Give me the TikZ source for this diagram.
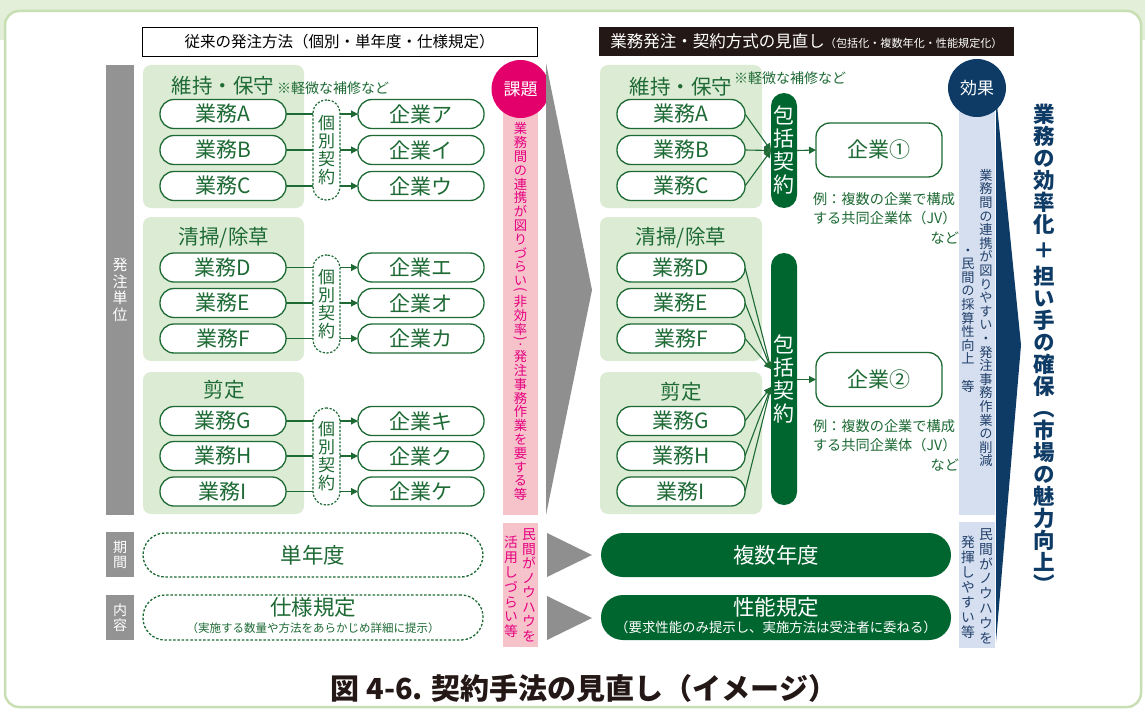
\documentclass[tikz,border=0pt]{standalone}
\usepackage{fontspec}
\setmainfont{Noto Sans CJK JP}
\newfontfamily\jpv[RawFeature={+vert}]{Noto Sans CJK JP}
\usetikzlibrary{arrows.meta}
\definecolor{bggreen}{HTML}{E3EFD9}
\definecolor{framegreen}{HTML}{C8DEB3}
\definecolor{grpgreen}{HTML}{DCEBD4}
\definecolor{dgreen}{HTML}{1D6A34}
\definecolor{pillgreen}{HTML}{00662F}
\definecolor{hdrblack}{HTML}{231815}
\definecolor{barGray}{HTML}{939393}
\definecolor{arrGray}{HTML}{8F8F90}
\definecolor{kpink}{HTML}{E4006B}
\definecolor{lpink}{HTML}{F6C3CB}
\definecolor{tpink}{HTML}{E5007F}
\definecolor{navy}{HTML}{0E3B66}
\definecolor{lblue}{HTML}{D5DFEF}
\definecolor{tnavy}{HTML}{22406B}

\makeatletter
\newdimen\vt@step
\newdimen\vt@gap
\newif\ifvt@half
\vt@gap=4pt
\def\vt@stop{\vt@stop}
\def\vg{\vg}
% full-step vertical text
\newcommand\vtext[2]{\vt@halffalse\vt@step=#1\relax\vbox{\offinterlineskip\vt@a#2\vt@stop}}
% vertical text with compact brackets and middle dots
\newcommand\vtexth[2]{\vt@halftrue\vt@step=#1\relax\vbox{\offinterlineskip\vt@a#2\vt@stop}}
\def\vt@a#1{\ifx#1\vt@stop\else\vt@b#1\expandafter\vt@a\fi}
\def\vt@full#1{\hbox to\vt@step{\hss\vbox to\vt@step{\vss\hbox{\vrule height.88em depth.12em width0pt#1}\vss}\hss}}
\def\vt@r#1#2{\hbox to\vt@step{\hss\vbox to.5\vt@step{\vss\hbox{\rotatebox[origin=c]{#1}{#2}}\vss}\hss}}
\def\vt@b#1{\ifx#1\vg\vskip\vt@gap\else
  \ifvt@half
    \ifx#1（\vt@r{-90}{(}\else
    \ifx#1）\vt@r{-90}{)}\else
    \ifx#1・\vt@r{0}{·}\else
    \vt@full{#1}\fi\fi\fi
  \else\vt@full{#1}\fi\fi}
\makeatother

\begin{document}
\begin{tikzpicture}[x=1pt,y=-1pt,
  every node/.style={inner sep=0pt, outer sep=0pt},
  gyo/.style={draw=dgreen, line width=1.3pt, fill=white, rounded corners=14pt, minimum width=126pt, minimum height=29pt, text=dgreen, font=\fontsize{21}{21}\selectfont},
  kobetsu/.style={draw=dgreen, dash pattern=on 2.2pt off 1.6pt, line width=1.2pt, fill=white, rounded corners=13pt, minimum width=27pt, text=dgreen, font=\jpv\fontsize{17}{17}\selectfont},
  pill/.style={fill=pillgreen, rounded corners=13pt, minimum width=26pt, text=white, font=\jpv\fontsize{21}{21}\selectfont},
  kig/.style={draw=dgreen, line width=1.3pt, fill=white, rounded corners=14pt, minimum width=126pt, minimum height=54pt, text=dgreen, font=\fontsize{21}{21}\selectfont},
  grptitle/.style={text=dgreen, font=\fontsize{20.5}{20.5}\selectfont},
  note/.style={text=dgreen, font=\fontsize{14}{14}\selectfont},
  captxt/.style={text=dgreen, text width=146pt, align=left, font=\fontsize{14.2}{19.5}\selectfont},
  conn/.style={draw=dgreen, line width=1.1pt},
  arr/.style={-{Triangle[length=7pt,width=7pt]}},
  dashbox/.style={draw=dgreen, dash pattern=on 2.5pt off 1.8pt, line width=1.3pt, rounded corners=22pt, fill=white},
  bigpill/.style={fill=pillgreen, rounded corners=22pt, minimum width=350pt},
  graylbl/.style={fill=barGray, minimum width=28pt, text=white, font=\jpv\fontsize{14}{14}\selectfont},
  pinkv/.style={text=tpink, font=\jpv\fontsize{13.3}{13.3}\selectfont},
  bluev/.style={text=tnavy, font=\jpv\fontsize{13.2}{13.2}\selectfont}
]
\useasboundingbox (0,0) rectangle (1145,709);
% frame
\fill[bggreen] (0,0) rectangle (1145,40);
\draw[framegreen, line width=2.5pt, fill=white, rounded corners=14pt] (5,11) rectangle (1141,707);

% headers
\node[draw=black, line width=0.8pt, fill=white, minimum width=395pt, minimum height=29pt, font=\fontsize{15.5}{15.5}\selectfont] (h1) at (339.5,41.5) {従来の発注方法（個別・単年度・仕様規定）};
\node[fill=hdrblack, minimum width=415pt, minimum height=29pt, text=white] (h2) at (806.5,41.5) {{\fontsize{16.5}{16.5}\selectfont 業務発注・契約方式の見直し}{\fontsize{11.1}{11.1}\selectfont （包括化・複数年化・性能規定化）}};

% gray labels
\node[graylbl, minimum height=450pt, font=\jpv\fontsize{15}{15}\selectfont] (bar) at (120,290) {\vtext{16.5pt}{発注単位}};
\node[graylbl, minimum height=45pt] (kikan) at (120,554.5) {\vtext{15pt}{期間}};
\node[graylbl, minimum height=45pt] (naiyo) at (120,617.5) {\vtext{15pt}{内容}};

% group boxes
\foreach \xa/\xb in {143/304, 600/762} {
  \fill[grpgreen, rounded corners=8pt] (\xa,65) rectangle (\xb,208);
  \fill[grpgreen, rounded corners=8pt] (\xa,217) rectangle (\xb,361);
  \fill[grpgreen, rounded corners=8pt] (\xa,372) rectangle (\xb,514);
}
\node[grptitle] (t1L) at (223,86) {維持・保守};
\node[note, anchor=west] (n1L) at (277,88) {※軽微な補修など};
\node[grptitle] (t2L) at (224,238) {清掃/除草};
\node[grptitle] (t3L) at (224,390) {剪定};
\node[grptitle] (t1R) at (681,87) {維持・保守};
\node[note, anchor=west] (n1R) at (734,78) {※軽微な補修など};
\node[grptitle] (t2R) at (681,238) {清掃/除草};
\node[grptitle] (t3R) at (681,392) {剪定};

% task boxes
\foreach \nm/\yy in {A/114,B/150,C/186,D/267.5,E/303,F/338.5,G/421,H/456,I/491.5} {
  \node[gyo] (L\nm) at (223,\yy) {業務\nm};
  \node[gyo, minimum width=128pt] (R\nm) at (681,\yy) {業務\nm};
}
% companies (left)
\foreach \nm/\t/\yy in {A/ア/114,B/イ/150,C/ウ/186,D/エ/267.5,E/オ/303,F/カ/338.5,G/キ/421,H/ク/456,I/ケ/491.5} {
  \node[gyo] (K\nm) at (421,\yy) {企業\t};
}
% individual contracts
\node[kobetsu, minimum height=100pt] (k1) at (326.5,150) {\vtext{18pt}{個別契約}};
\node[kobetsu, minimum height=98pt] (k2) at (326.5,304) {\vtext{18pt}{個別契約}};
\node[kobetsu, minimum height=97pt] (k3) at (326.5,456.5) {\vtext{18pt}{個別契約}};
\foreach \nm/\k in {A/1,B/1,C/1,D/2,E/2,F/2,G/3,H/3,I/3} {
  \draw[conn] (L\nm.east) -- (L\nm.east -| k\k.west);
  \draw[conn, arr] (L\nm.east -| k\k.east) -- (K\nm.west);
}

% right: package contracts
\node[pill, minimum height=115pt] (p1) at (784,150.5) {\vtext{23pt}{包括契約}};
\node[pill, minimum height=252pt] (p2) at (784,379) {\vtext{23pt}{包括契約}};
\coordinate (c2a) at (771,369);
\coordinate (c2b) at (771,387);
\foreach \nm in {A,B,C} \draw[conn, arr] (R\nm.east) -- (p1.west);
\foreach \nm in {D,E,F} \draw[conn, arr] (R\nm.east) -- (c2a);
\foreach \nm in {G,H,I} \draw[conn, arr] (R\nm.east) -- (c2b);
\node[kig] (kig1) at (879,150) {企業①};
\node[kig] (kig2) at (879,379.5) {企業②};
\draw[conn, arr] (p1.east) -- (kig1.west);
\draw[conn, arr] (p2.east |- kig2.west) -- (kig2.west);
\node[captxt, anchor=north west] (cap1) at (813,192.5) {例：複数の企業で構成\\する共同企業体（JV）\\\hspace*{\fill}など};
\node[captxt, anchor=north west] (cap2) at (813,419.5) {例：複数の企業で構成\\する共同企業体（JV）\\\hspace*{\fill}など};

% issue column
\fill[lpink] (503,89) rectangle (538,515);
\node[pinkv, anchor=north] (kdtxt) at (520.5,122) {\vtexth{13.8pt}{業務間の連携が図りづらい（非効率）・発注事務作業を要する等}};
\node[circle, fill=kpink, minimum size=58pt, text=white, font=\fontsize{17}{17}\selectfont] (kadai) at (520.5,89) {課題};
\fill[lpink] (503,523) rectangle (538,647);
\node[pinkv, font=\jpv\fontsize{13.8}{13.8}\selectfont] (kd2a) at (529,585) {\vtext{14.5pt}{民間がノウハウを}};
\node[pinkv, font=\jpv\fontsize{13.8}{13.8}\selectfont] (kd2b) at (511,587) {\vtext{14.8pt}{活用しづらい等}};

% gray arrows
\fill[arrGray] (546,63) -- (592,290) -- (546,515) -- cycle;
\fill[arrGray] (547,533) -- (592,555) -- (547,577) -- cycle;
\fill[arrGray] (547,596) -- (592,618) -- (547,640) -- cycle;

% bottom rows
\node[dashbox, minimum width=340pt, minimum height=44pt, text=dgreen, font=\fontsize{21.5}{21.5}\selectfont] (tan) at (313,555) {単年度};
\node[dashbox, minimum width=340pt, minimum height=45pt] (shi) at (313,617.5) {};
\node[text=dgreen, font=\fontsize{21.5}{21.5}\selectfont] (shit) at (313,607) {仕様規定};
\node[text=dgreen, font=\fontsize{11.5}{11.5}\selectfont] (shis) at (313,628.5) {（実施する数量や方法をあらかじめ詳細に提示）};
\node[bigpill, minimum height=44pt, text=white, font=\fontsize{21.5}{21.5}\selectfont] (fuku) at (776,555) {複数年度};
\node[bigpill, minimum height=45pt] (sei) at (776,617.5) {};
\node[text=white, font=\fontsize{21.5}{21.5}\selectfont] (seit) at (776,607) {性能規定};
\node[text=white, font=\fontsize{13.4}{13.4}\selectfont] (seis) at (776,627.5) {（要求性能のみ提示し、実施方法は受注者に委ねる）};

% effect column
\fill[lblue] (959,88) rectangle (995,515);
\fill[lblue] (959,522) rectangle (995,648);
\fill[navy] (996,95) -- (1021,345) -- (996,642) -- cycle;
\node[bluev] (ef1) at (986,318) {\vtext{13.6pt}{業務間の連携が図りやすい・発注事務作業の削減}};
\node[bluev] (ef2) at (968,318) {\vtext{13.6pt}{・民間の採算性向上　等}};
\node[bluev, font=\jpv\fontsize{13.8}{13.8}\selectfont] (ef3) at (986,586) {\vtext{14.8pt}{民間がノウハウを}};
\node[bluev, font=\jpv\fontsize{13.8}{13.8}\selectfont] (ef4) at (968,587) {\vtext{15pt}{発揮しやすい等}};
\node[circle, fill=navy, minimum size=58pt, text=white, font=\fontsize{17}{17}\selectfont] (koka) at (977,88) {効果};
\node[anchor=north, text=navy, font=\jpv\bfseries\fontsize{21.5}{21.5}\selectfont] (big) at (1044,103) {\vtext{22pt}{業務の効率化\vg ＋\vg 担い手の確保（市場の魅力向上）}};

% title
\node[text=hdrblack, font=\bfseries\fontsize{29}{29}\selectfont] (title) at (584,688) {図 4-6. 契約手法の見直し（イメージ）};
\end{tikzpicture}
\end{document}
